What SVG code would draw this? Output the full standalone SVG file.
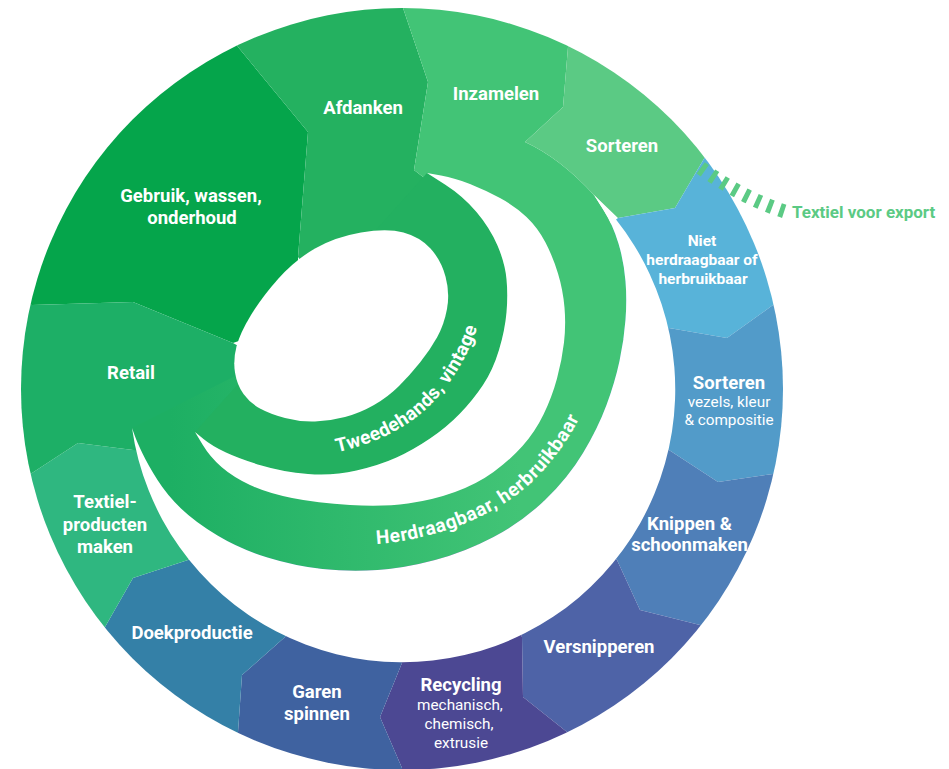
<svg xmlns="http://www.w3.org/2000/svg" width="949" height="769" viewBox="0 0 949 769">
<defs>
<clipPath id="disc"><circle cx="402" cy="389" r="381"/></clipPath>
<linearGradient id="hgrad" gradientUnits="userSpaceOnUse" x1="170" y1="0" x2="520" y2="0">
<stop offset="0" stop-color="#1daf63"/><stop offset="1" stop-color="#42c476"/>
</linearGradient>
<path id="tpath" d="M290,460 L314,456.5 Q338,453 361.5,445.5 Q385,438 406,424.5 Q427,411 442.5,391.5 Q458,372 468,351 Q478,330 481,310 L484,290"/>
<path id="hpath" d="M300,540 L325,542.5 Q350,545 375,544 Q400,543 430,535 Q460,527 487.5,513 Q515,499 534,480 Q553,461 567,439.5 Q581,418 588,396.5 L595,375"/>
</defs>
<style>
.seg{clip-path:url(#disc)}
.lb{font-family:Roboto,'Liberation Sans',sans-serif;font-weight:700;font-size:18.5px;fill:#fff;text-anchor:middle}
.nb{font-family:Roboto,'Liberation Sans',sans-serif;font-weight:700;font-size:15.5px;fill:#fff;text-anchor:middle}
.sm{font-family:Roboto,'Liberation Sans',sans-serif;font-weight:400;font-size:15.3px;fill:#fff;text-anchor:middle}
.cv{font-family:Roboto,'Liberation Sans',sans-serif;font-weight:700;font-size:19px;fill:#fff}
.wh{fill:#fff}
</style>

<g id="gebruik"><path class="seg" fill="#05a54b" d="M32,305 L-105,274 L177,-80 L238,47 L308,132 L298,257 L300,320 L233,343 L133,302 Z"/>
<text class="lb" x="191" y="202">Gebruik, wassen,</text><text class="lb" x="192" y="224">onderhoud</text></g>

<g id="afdanken"><path class="seg" fill="#24b160" d="M238,47 L177,-80 L403,-131 L403,8 L428,82 L414,170 L427,180 L330,300 L298,257 L308,132 Z"/>
<text class="lb" x="363" y="114">Afdanken</text></g>

<g id="inzamelen"><path class="seg" fill="#42c476" d="M403,8 L403,-131 L629,-79 L568,47 L563,107 L525,142 Q560,158 594,195 L560,260 L430,240 L427,180 L414,170 L428,82 Z"/>
<text class="lb" x="496" y="100">Inzamelen</text></g>

<g id="sorteren1"><path class="seg" fill="#5bca84" d="M568,47 L629,-79 L815,73 L705,157 L675,208 L618,218 L594,195 Q560,158 525,142 L563,107 Z"/>
<text class="lb" x="622" y="152">Sorteren</text></g>

<g id="niet-herdraagbaar"><path class="seg" fill="#58b3d9" d="M705,157 L815,73 L909,274 L773,305 L727,338 L669,328 L402,389 L618,218 L675,208 Z"/>
<text class="nb" x="702" y="246">Niet</text><text class="nb" x="702" y="264.5">herdraagbaar of</text><text class="nb" x="703" y="283.5">herbruikbaar</text></g>

<g id="sorteren2"><path class="seg" fill="#529bc9" d="M773,305 L909,274 L909,505 L773,474 L718,482 L669,450 L402,389 L669,328 L727,338 Z"/>
<text class="lb" x="729" y="389">Sorteren</text><text class="sm" x="729" y="407">vezels, kleur</text><text class="sm" x="729" y="425">&amp; compositie</text></g>

<g id="knippen"><path class="seg" fill="#4f7fb8" d="M773,474 L909,505 L810,712 L700,625 L640,610 L617,560 L402,389 L669,450 L718,482 Z"/>
<text class="lb" x="689.5" y="530">Knippen &amp;</text><text class="lb" x="689.5" y="551">schoonmaken</text></g>

<g id="versnipperen"><path class="seg" fill="#4e63a7" d="M700,625 L810,712 L627,858 L567,732 L523,697 L522,637 L402,389 L617,560 L640,610 Z"/>
<text class="lb" x="599" y="653">Versnipperen</text></g>

<g id="recycling"><path class="seg" fill="#4c4893" d="M567,732 L627,858 L402,909 L402,768 L380,717 L402,663 L402,389 L522,637 L523,697 Z"/>
<text class="lb" x="461" y="691">Recycling</text><text class="sm" x="460" y="710">mechanisch,</text><text class="sm" x="459" y="729">chemisch,</text><text class="sm" x="461" y="748">extrusie</text></g>

<g id="garen"><path class="seg" fill="#3f62a0" d="M402,768 L402,909 L178,858 L238,732 L242,675 L285,637 L402,389 L402,663 L380,717 Z"/>
<text class="lb" x="317" y="698">Garen</text><text class="lb" x="317" y="720">spinnen</text></g>

<g id="doekproductie"><path class="seg" fill="#3480a7" d="M238,732 L178,858 L-4,714 L105,627 L133,578 L188,560 L402,389 L285,637 L242,675 Z"/>
<text class="lb" x="192" y="639">Doekproductie</text></g>

<g id="textielproducten"><path class="seg" fill="#2fb780" d="M105,627 L-4,714 L-105,504 L32,473 L78,443 L133,450 L402,389 L188,560 L133,578 Z"/>
<text class="lb" x="105" y="508">Textiel-</text><text class="lb" x="105" y="530.5">producten</text><text class="lb" x="105" y="552.5">maken</text></g>

<g id="retail"><path class="seg" fill="#1daf66" d="M32,305 L133,302 L233,343 L300,380 L260,470 L133,450 L78,443 L32,473 L-105,504 L-105,274 Z"/>
<text class="lb" x="131" y="379">Retail</text></g>

<g id="connectors">
<path id="herdraagbaar-band" fill="url(#hgrad)" d="M594,195 L603.5,210 Q613,225 618.5,243.5 Q624,262 625.5,281 Q627,300 625.5,320 Q624,340 619.5,361 Q615,382 606.5,405 Q598,428 583,453 Q568,478 545,500 Q522,522 493.5,537 Q465,552 435,560 Q405,568 377.5,570 Q350,572 322.5,569 Q295,566 267.5,557.5 Q240,549 217.5,535.5 Q195,522 181,508.5 Q167,495 157.5,480 Q148,465 142.5,453.5 Q137,442 134.5,435 L132,428 Z"/>
<path id="tweedehands-band" fill="#23b060" d="M427,173 L445,184.5 Q463,196 476.5,212 Q490,228 497.5,245.5 Q505,263 506.5,279 Q508,295 506.5,312.5 Q505,330 499,350 Q493,370 483,385 Q473,400 460,413.5 Q447,427 430,438.5 Q413,450 396.5,457.5 Q380,465 356.5,470.5 Q333,476 308,474 Q283,472 261.5,465.5 Q240,459 226,452.5 Q212,446 203.5,439 L195,432 Z"/>
<path class="wh" d="M594,195 A273,273 0 1 1 132,428 L134.5,435 Q137,442 142.5,453.5 Q148,465 157.5,480 Q167,495 181,508.5 Q195,522 217.5,535.5 Q240,549 267.5,557.5 Q295,566 322.5,569 Q350,572 377.5,570 Q405,568 435,560 Q465,552 493.5,537 Q522,522 545,500 Q568,478 583,453 Q598,428 606.5,405 Q615,382 619.5,361 Q624,340 625.5,320 Q627,300 625.5,281 Q624,262 618.5,243.5 Q613,225 603.5,210 Z"/>
<path class="wh" d="M427,173 L445,184.5 Q463,196 476.5,212 Q490,228 497.5,245.5 Q505,263 506.5,279 Q508,295 506.5,312.5 Q505,330 499,350 Q493,370 483,385 Q473,400 460,413.5 Q447,427 430,438.5 Q413,450 396.5,457.5 Q380,465 356.5,470.5 Q333,476 308,474 Q283,472 261.5,465.5 Q240,459 226,452.5 Q212,446 203.5,439 L195,432 L202.5,444.5 Q210,457 221.5,467 Q233,477 250,485 Q267,493 292,498 Q317,503 350,505 Q383,507 408,503.5 Q433,500 455,492 Q477,484 493.5,472 Q510,460 522.5,446 Q535,432 543.5,414.5 Q552,397 557,378.5 Q562,360 564,342.5 Q566,325 564.5,307.5 Q563,290 558,273.5 Q553,257 545.5,242.5 Q538,228 526.5,217 Q515,206 500,198 Q485,190 470,184 Q455,178 441,175.5 Z"/>
<path class="wh" d="M361,232.5 Q387,228 403.5,232.5 Q420,237 430.5,248.5 Q441,260 445.5,276.5 Q450,293 447,309 Q444,325 437,337.5 Q430,350 420,362.5 Q410,375 399,386 Q388,397 374,405 Q360,413 345,417 Q330,421 315,421.5 Q300,422 285,418 Q270,414 260,408.5 Q250,403 243.5,394 Q237,385 235,372.5 Q233,360 236.5,346.5 Q240,333 251,315 Q262,297 278.5,278.5 Q295,260 315,248.5 Q335,237 361,232.5 Z"/>
<text class="cv" letter-spacing="0.3"><textPath href="#tpath" startOffset="48">Tweedehands, vintage</textPath></text>
<text class="cv" letter-spacing="0.6"><textPath href="#hpath" startOffset="77">Herdraagbaar, herbruikbaar</textPath></text>
<path id="export-line" d="M700.7,167.8 Q741.4,197.4 784.2,211.3" fill="none" stroke="#5bca84" stroke-width="14" stroke-dasharray="5 7.8"/>
<text x="792" y="218" style="font-family:Roboto,'Liberation Sans',sans-serif;font-weight:700;font-size:17px;fill:#5bca84">Textiel voor export</text>
</g>
</svg>
